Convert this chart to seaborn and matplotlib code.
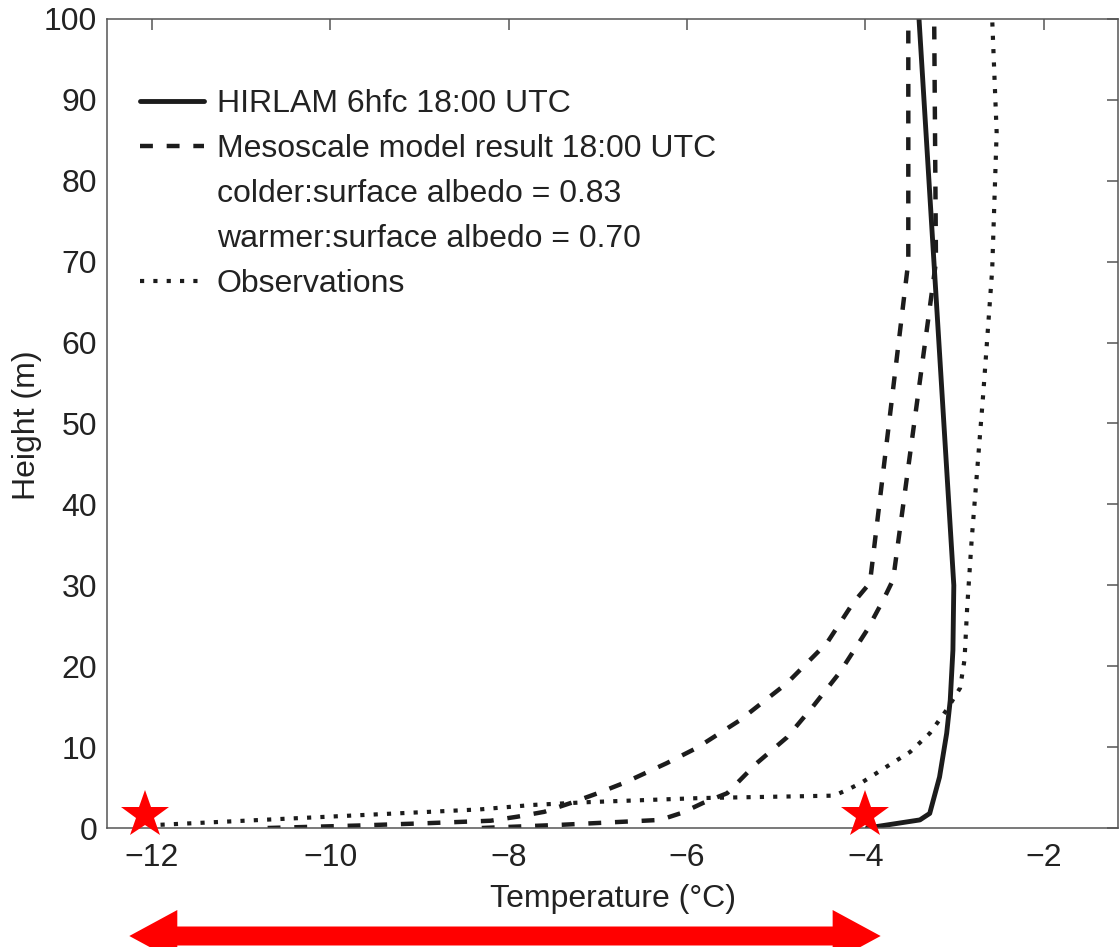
import matplotlib
matplotlib.use('Agg')
import matplotlib.pyplot as plt
import seaborn as sns
from matplotlib.lines import Line2D
from matplotlib.patches import FancyArrow

# Temperature profiles (deg C) against height (m)
hirlam_temp = [-3.98, -3.39, -3.28, -3.17, -3.09, -3.05, -3.02, -3.01, -3.40]
hirlam_height = [0, 1.0, 1.8, 6.3, 11.7, 15.8, 22, 30, 100]

colder_temp = [-10.7, -9.7, -8.9, -8.2, -7.9, -7.6, -7.3, -7.0, -6.7, -6.23,
               -5.89, -5.41, -4.88, -4.43, -4.14, -3.95, -3.52, -3.52]
colder_height = [0, 0.3, 0.6, 0.9, 1.4, 2.0, 3.1, 4.3, 5.6, 8.0,
                 9.9, 13.3, 17.9, 22.9, 27.8, 30.3, 70, 100]

warmer_temp = [-8.3, -7.4, -6.3, -6.05, -5.82, -5.55, -5.22, -4.88, -4.59,
               -4.29, -3.98, -3.80, -3.69, -3.21, -3.23]
warmer_height = [0, 0.4, 1.0, 1.9, 3.1, 4.3, 8.0, 11.2, 15.0,
                 19.2, 24.5, 28.2, 30.7, 70, 100]

obs_temp = [-11.9, -8.32, -7.73, -7.1, -5.85, -4.35, -4.17, -4.03, -3.76, -3.50,
            -3.28, -3.09, -2.94, -2.89, -2.86, -2.81, -2.68, -2.58, -2.53, -2.58]
obs_height = [0.4, 2.3, 2.85, 3.2, 3.7, 4.0, 4.9, 5.7, 7.6, 9.4,
              11.7, 14.6, 17.3, 20.8, 27.3, 35.6, 53.7, 69, 86, 100]

# surface temperature markers and the range arrow below the axis
star_temp = [-12.07, -4.0]
star_height = [1.6, 1.6]
arrow_left, arrow_right, arrow_level = -12.25, -3.83, -13.35

legend_labels = ['HIRLAM 6hfc 18:00 UTC',
                 'Mesoscale model result 18:00 UTC',
                 'colder:surface albedo = 0.83',
                 'warmer:surface albedo = 0.70',
                 'Observations']

sns.set_theme(style='white')
plt.rcParams['font.family'] = ['Liberation Sans', 'DejaVu Sans']

line_color = '#1c1c1c'
text_color = '#222222'
solid = dict(linestyle='-', lw=3.5)
dashed = dict(linestyle=(0, (2.9, 3.1)), lw=3.2)
dotted = dict(linestyle=(0, (1, 2.2)), lw=3.0)

fig = plt.figure(figsize=(11.2, 9.47), dpi=100)
ax = fig.add_axes([107 / 1120, 119 / 947, 1011 / 1120, 809 / 947])

sns.lineplot(x=hirlam_temp, y=hirlam_height, sort=False, estimator=None,
             color=line_color, ax=ax, **solid)
sns.lineplot(x=colder_temp, y=colder_height, sort=False, estimator=None,
             color=line_color, ax=ax, **dashed)
sns.lineplot(x=warmer_temp, y=warmer_height, sort=False, estimator=None,
             color=line_color, ax=ax, **dashed)
sns.lineplot(x=obs_temp, y=obs_height, sort=False, estimator=None,
             color=line_color, ax=ax, **dotted)

ax.plot(star_temp, star_height, linestyle='none', marker='*', markersize=36,
        color='red', markeredgewidth=0, clip_on=False, zorder=5)

ax.set_xlim(-12.5, -1.17)
ax.set_ylim(0, 100)
ax.set_xticks([-12, -10, -8, -6, -4, -2])
ax.set_yticks(range(0, 101, 10))
ax.set_xlabel('Temperature (°C)', fontsize=23, color=text_color, labelpad=8)
ax.set_ylabel('Height (m)', fontsize=23, color=text_color)
ax.yaxis.set_label_coords(-0.064, 0.498)
ax.tick_params(direction='in', length=8, width=1.1, color='#555555',
               labelsize=23, labelcolor=text_color, top=True, right=True)
ax.tick_params(axis='x', pad=11)
ax.tick_params(axis='y', pad=7)
for sp in ax.spines.values():
    sp.set_visible(True)
    sp.set_color('#555555')
    sp.set_linewidth(1.1)

# legend: the dashed entry carries two extra text lines with no handle
blank = Line2D([], [], color='none')
handles = [Line2D([], [], color=line_color, **solid),
           Line2D([], [], color=line_color, **dashed),
           blank, blank,
           Line2D([], [], color=line_color, **dotted)]
leg = ax.legend(handles, legend_labels, loc='upper left',
                bbox_to_anchor=(0.0326, 0.913), frameon=False, fontsize=23,
                handlelength=2.0, handletextpad=0.4, labelspacing=0.47,
                borderaxespad=0, borderpad=0)
for t in leg.get_texts():
    t.set_color(text_color)

# double-headed red arrow under the axis: a right-pointing arrow whose tail
# starts inside a separate left-pointing head
px_per_m = 809 / 100
px_per_deg = 1011 / (ax.get_xlim()[1] - ax.get_xlim()[0])
shaft_w = 19 / px_per_m
head_w = 52 / px_per_m
head_l = 48 / px_per_deg
tail_start = arrow_left + head_l * 0.5
ax.add_patch(FancyArrow(tail_start, arrow_level, arrow_right - tail_start, 0,
                        width=shaft_w, head_width=head_w, head_length=head_l,
                        length_includes_head=True, color='red', lw=0,
                        clip_on=False))
ax.add_patch(FancyArrow(arrow_left + head_l, arrow_level, -head_l, 0,
                        width=shaft_w, head_width=head_w, head_length=head_l,
                        length_includes_head=True, color='red', lw=0,
                        clip_on=False))

fig.savefig('out.png', dpi=100)
